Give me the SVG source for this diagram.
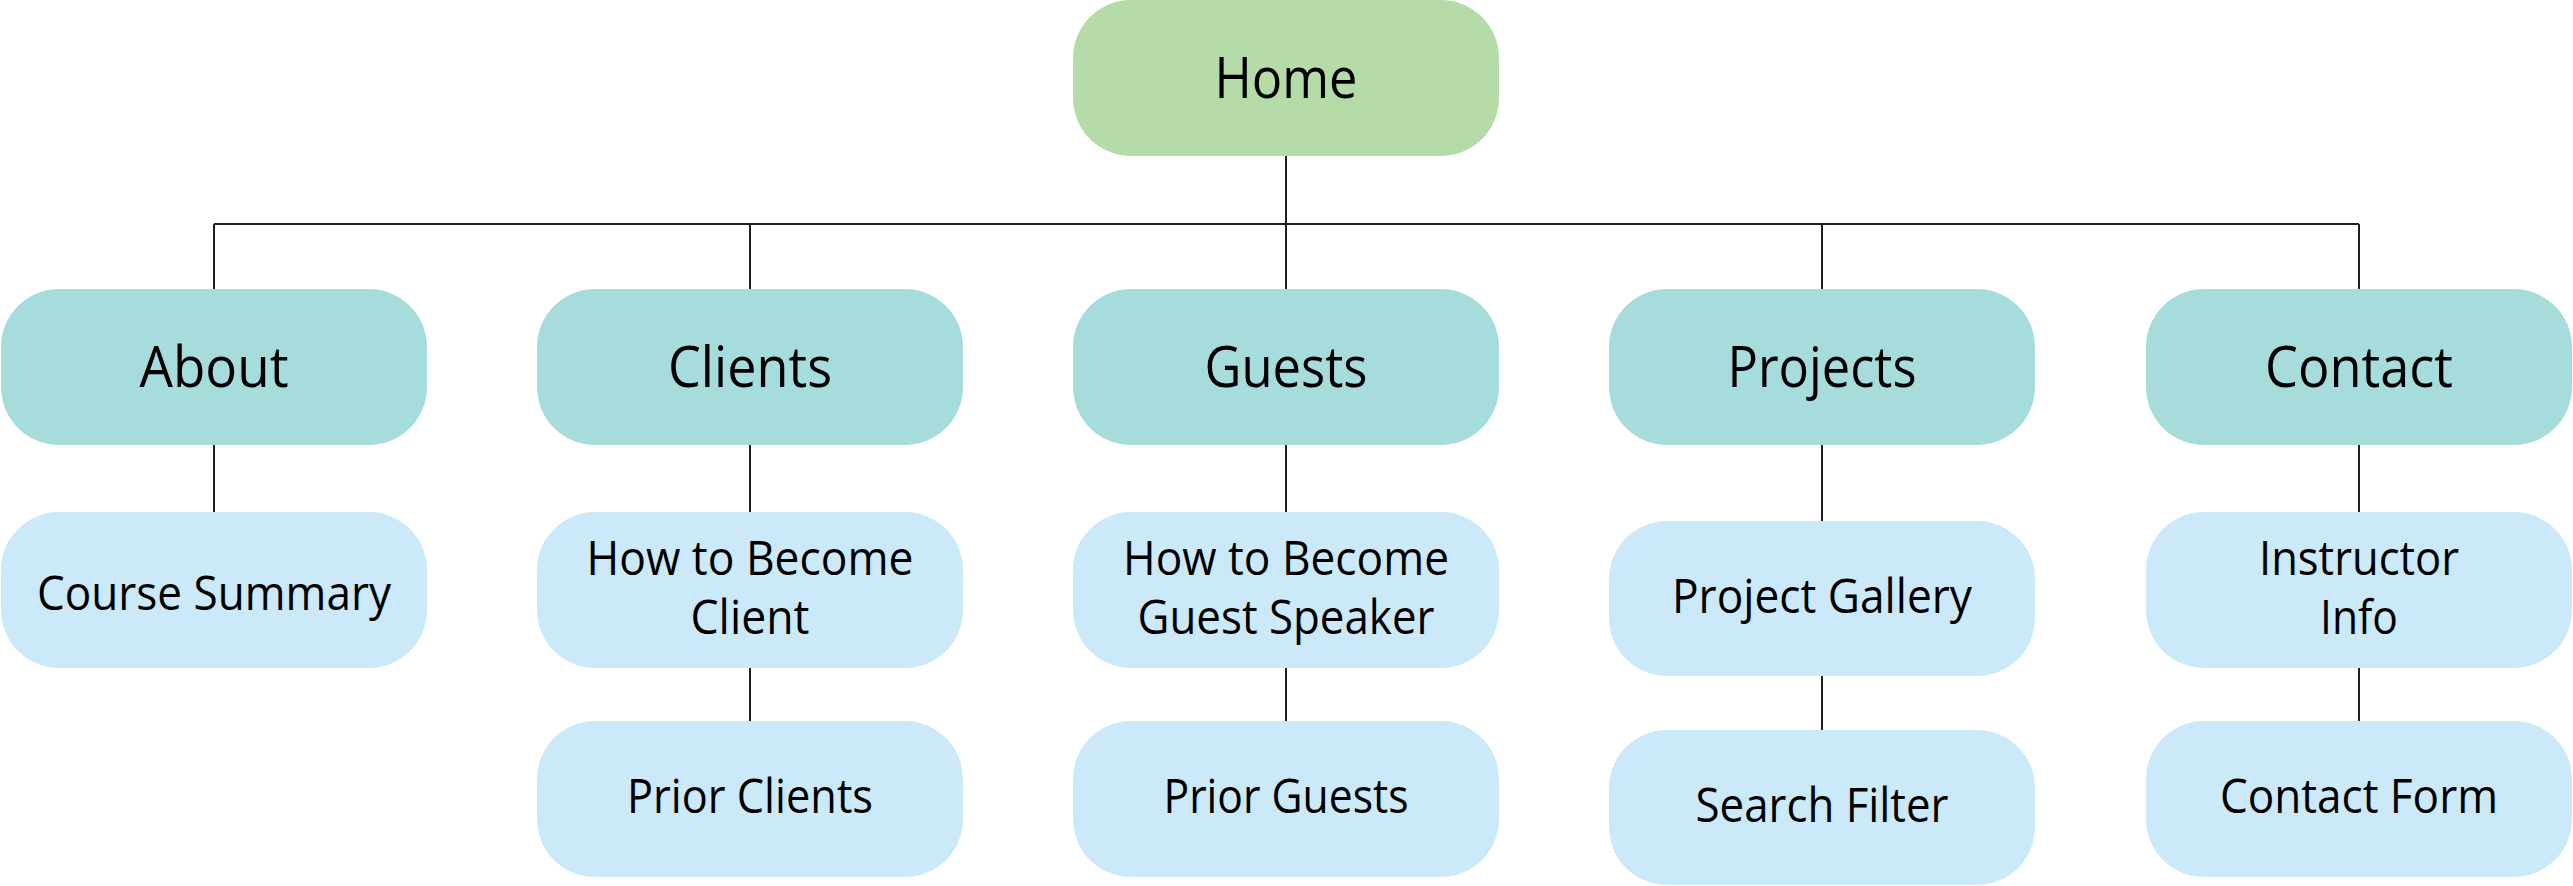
<svg xmlns="http://www.w3.org/2000/svg" width="2573" height="886" viewBox="0 0 2573 886">
<style>
.home{fill:#b4dba8}
.main{fill:#a7dcdc}
.sub{fill:#cce9f9}
.t{font-family:"Open Sans","Noto Sans","Liberation Sans",sans-serif;fill:#000;text-anchor:middle}
.tm{font-size:56px}
.ts{font-size:47px}
.c{stroke:#231f20;stroke-width:2;fill:none}
</style>
<rect width="2573" height="886" fill="#fff"/>
<g id="connectors">
<path class="c" d="M1286 156V224M214 224H2359M214 224V289M750 224V289M1286 224V289M1822 224V289M2359 224V289"/>
<path class="c" d="M214 445V512M750 445V512M1286 445V512M1822 445V521M2359 445V512"/>
<path class="c" d="M750 668V721M1286 668V721M1822 676V730M2359 668V721"/>
</g>
<g id="home">
<rect class="home" x="1073" y="0" width="426" height="156" rx="58"/>
<text class="t tm" x="1286" y="98" textLength="143" lengthAdjust="spacingAndGlyphs">Home</text>
</g>
<g id="about">
<rect class="main" x="1" y="289" width="426" height="156" rx="58"/>
<text class="t tm" x="214" y="387" textLength="149" lengthAdjust="spacingAndGlyphs">About</text>
</g>
<g id="clients">
<rect class="main" x="537" y="289" width="426" height="156" rx="58"/>
<text class="t tm" x="750" y="387" textLength="164" lengthAdjust="spacingAndGlyphs">Clients</text>
</g>
<g id="guests">
<rect class="main" x="1073" y="289" width="426" height="156" rx="58"/>
<text class="t tm" x="1286" y="387" textLength="163" lengthAdjust="spacingAndGlyphs">Guests</text>
</g>
<g id="projects">
<rect class="main" x="1609" y="289" width="426" height="156" rx="58"/>
<text class="t tm" x="1822" y="387" textLength="189" lengthAdjust="spacingAndGlyphs">Projects</text>
</g>
<g id="contact">
<rect class="main" x="2146" y="289" width="426" height="156" rx="58"/>
<text class="t tm" x="2359" y="387" textLength="188" lengthAdjust="spacingAndGlyphs">Contact</text>
</g>
<g id="course-summary">
<rect class="sub" x="1" y="512" width="426" height="156" rx="58"/>
<text class="t ts" x="214" y="610" textLength="354" lengthAdjust="spacingAndGlyphs">Course Summary</text>
</g>
<g id="become-client">
<rect class="sub" x="537" y="512" width="426" height="156" rx="58"/>
<text class="t ts" x="750" y="575" textLength="327" lengthAdjust="spacingAndGlyphs">How to Become</text>
<text class="t ts" x="750" y="634" textLength="119" lengthAdjust="spacingAndGlyphs">Client</text>
</g>
<g id="prior-clients">
<rect class="sub" x="537" y="721" width="426" height="156" rx="58"/>
<text class="t ts" x="750" y="813" textLength="246" lengthAdjust="spacingAndGlyphs">Prior Clients</text>
</g>
<g id="become-guest">
<rect class="sub" x="1073" y="512" width="426" height="156" rx="58"/>
<text class="t ts" x="1286" y="575" textLength="326" lengthAdjust="spacingAndGlyphs">How to Become</text>
<text class="t ts" x="1286" y="634" textLength="297" lengthAdjust="spacingAndGlyphs">Guest Speaker</text>
</g>
<g id="prior-guests">
<rect class="sub" x="1073" y="721" width="426" height="156" rx="58"/>
<text class="t ts" x="1286" y="813" textLength="245" lengthAdjust="spacingAndGlyphs">Prior Guests</text>
</g>
<g id="project-gallery">
<rect class="sub" x="1609" y="521" width="426" height="155" rx="58"/>
<text class="t ts" x="1822" y="613" textLength="300" lengthAdjust="spacingAndGlyphs">Project Gallery</text>
</g>
<g id="search-filter">
<rect class="sub" x="1609" y="730" width="426" height="155" rx="58"/>
<text class="t ts" x="1822" y="822" textLength="253" lengthAdjust="spacingAndGlyphs">Search Filter</text>
</g>
<g id="instructor-info">
<rect class="sub" x="2146" y="512" width="426" height="156" rx="58"/>
<text class="t ts" x="2359" y="575" textLength="200" lengthAdjust="spacingAndGlyphs">Instructor</text>
<text class="t ts" x="2359" y="634" textLength="78" lengthAdjust="spacingAndGlyphs">Info</text>
</g>
<g id="contact-form">
<rect class="sub" x="2146" y="721" width="426" height="156" rx="58"/>
<text class="t ts" x="2359" y="813" textLength="278" lengthAdjust="spacingAndGlyphs">Contact Form</text>
</g>
</svg>
